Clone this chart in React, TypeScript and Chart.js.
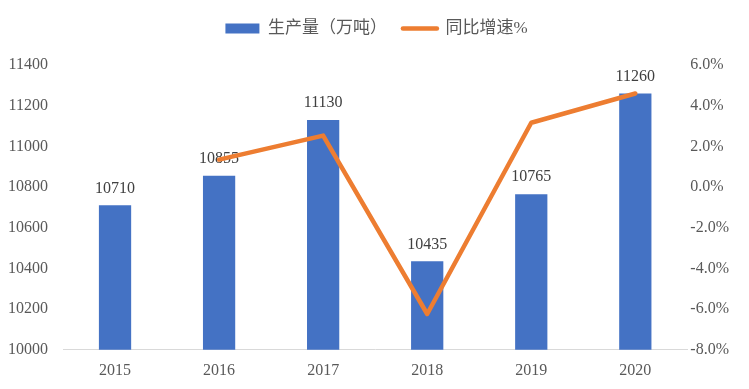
import React, { useEffect, useRef } from "react";
import { Chart, registerables } from "chart.js";

Chart.register(...registerables);

const categories = ["2015", "2016", "2017", "2018", "2019", "2020"];
const production = [10710, 10855, 11130, 10435, 10765, 11260];
const growth: (number | null)[] = [null, 1.35, 2.53, -6.24, 3.16, 4.6];
const productionLabel = "生产量（万吨）";
const growthLabel = "同比增速%";

const FONT = '"Liberation Serif", "Times New Roman", "Noto Sans CJK SC", serif';
const TEXT = "#595959";

const barLabels = {
  id: "barLabels",
  afterDatasetDraw(chart: any, args: any) {
    if (args.index !== 0) return;
    const ctx = chart.ctx;
    const meta = args.meta;
    ctx.save();
    ctx.font = `16px ${FONT}`;
    ctx.fillStyle = "#404040";
    ctx.textAlign = "center";
    ctx.textBaseline = "middle";
    meta.data.forEach((el: any, i: number) => {
      ctx.fillText(String(production[i]), el.x, el.y - 17);
    });
    ctx.restore();
  },
};

const legendSpace = {
  id: "legendSpace",
  beforeInit(chart: any) {
    const legend = chart.legend;
    if (!legend) return;
    const origFit = legend.fit;
    legend.fit = function () {
      origFit.call(this);
      this.height += 18;
    };
  },
  afterLayout(chart: any) {
    const legend = chart.legend;
    if (!legend) return;
    legend.left += 14;
    legend.right += 14;
  },
};

export default function App() {
  const ref = useRef<HTMLCanvasElement>(null);
  useEffect(() => {
    document.body.style.margin = "0";
    const chart = new Chart(ref.current!, {
      type: "bar",
      data: {
        labels: categories,
        datasets: [
          {
            type: "bar",
            label: productionLabel,
            data: production,
            backgroundColor: "#4472C4",
            borderWidth: 0,
            barPercentage: 0.31,
            categoryPercentage: 1,
            yAxisID: "y",
            order: 1,
          },
          {
            type: "line",
            label: growthLabel,
            data: growth,
            borderColor: "#ED7D31",
            backgroundColor: "#ED7D31",
            borderWidth: 4.5,
            borderCapStyle: "round",
            borderJoinStyle: "round",
            pointRadius: 0,
            tension: 0,
            yAxisID: "y1",
            order: 0,
          } as any,
        ],
      },
      options: {
        responsive: false,
        animation: false,
        layout: { padding: { left: -7, right: 17, top: 4, bottom: -2 } },
        plugins: {
          tooltip: { enabled: false },
          legend: {
            position: "top",
            labels: {
              usePointStyle: true,
              pointStyleWidth: 34,
              boxHeight: 10,
              padding: 16,
              color: TEXT,
              font: { family: FONT, size: 17 },
              sort: (a: any, b: any) => a.datasetIndex - b.datasetIndex,
              generateLabels: (chart: any) =>
                chart.data.datasets.map((ds: any, i: number) => ({
                  text: ds.label,
                  datasetIndex: i,
                  fillStyle: ds.backgroundColor,
                  strokeStyle: ds.type === "line" ? ds.borderColor : ds.backgroundColor,
                  lineWidth: ds.type === "line" ? 4.5 : 0,
                  lineCap: "round",
                  pointStyle: ds.type === "line" ? "line" : "rect",
                  fontColor: TEXT,
                  hidden: false,
                })),
            },
          },
        },
        scales: {
          x: {
            grid: { display: false, drawTicks: false },
            border: { display: true, color: "#D9D9D9", width: 1 },
            ticks: { color: TEXT, font: { family: FONT, size: 16 }, padding: 11 },
          },
          y: {
            position: "left",
            min: 10000,
            max: 11400,
            grid: { display: false, drawTicks: false },
            border: { display: false },
            ticks: {
              stepSize: 200,
              color: TEXT,
              font: { family: FONT, size: 16 },
              padding: 15,
              callback: (v: any) => String(v),
            },
          },
          y1: {
            position: "right",
            min: -8,
            max: 6,
            grid: { display: false, drawTicks: false },
            border: { display: false },
            ticks: {
              stepSize: 2,
              color: TEXT,
              font: { family: FONT, size: 16 },
              padding: 3,
              callback: (v: any) => Number(v).toFixed(1) + "%",
            },
          },
        },
      },
      plugins: [barLabels, legendSpace],
    });
    return () => chart.destroy();
  }, []);
  return <canvas ref={ref} width={749} height={389} style={{ display: "block" }} />;
}
